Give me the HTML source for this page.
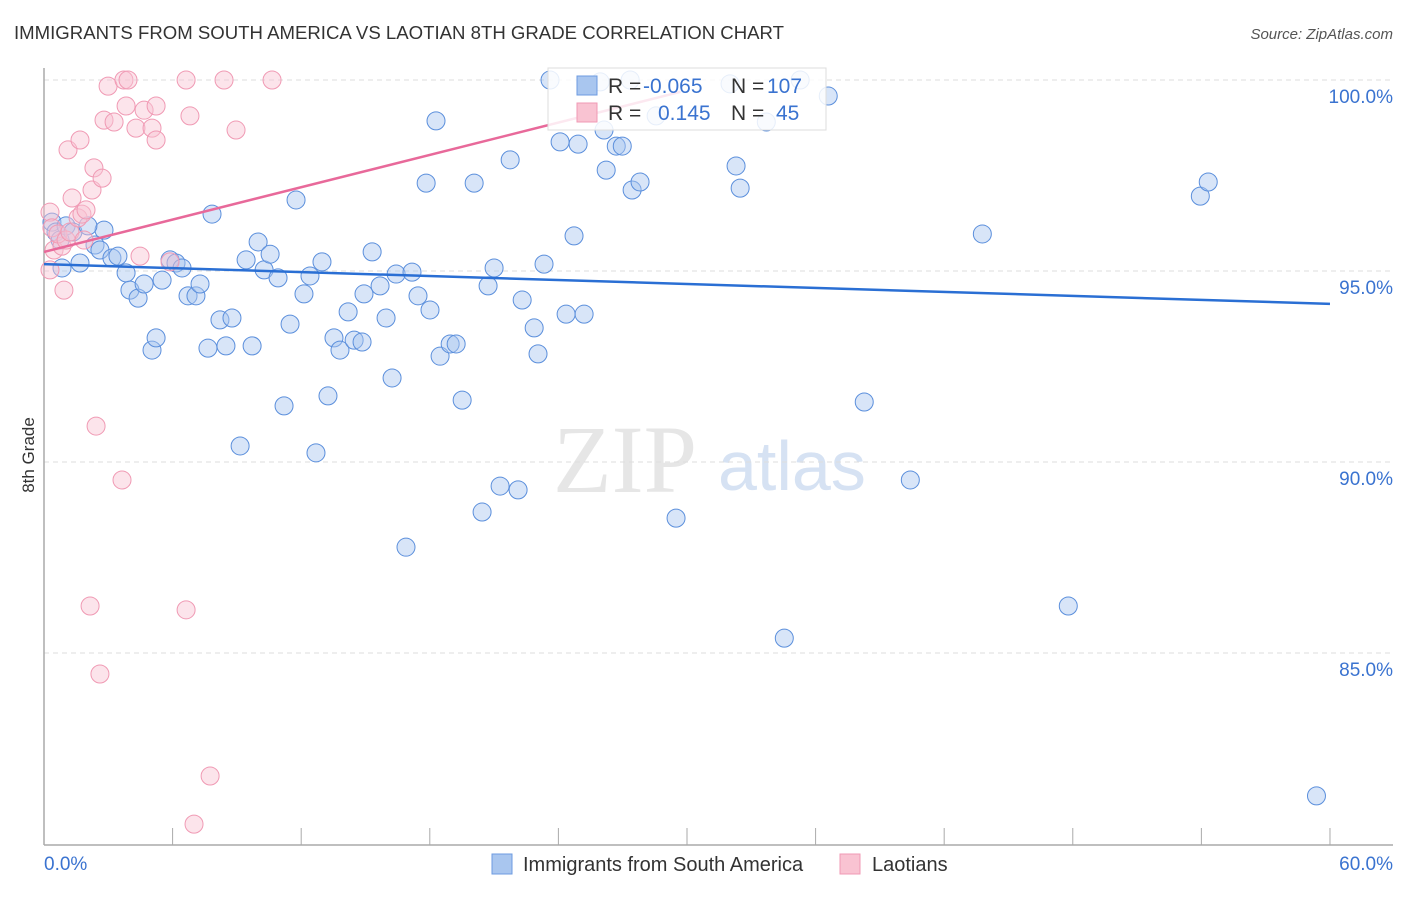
<!DOCTYPE html>
<html><head><meta charset="utf-8"><style>
body{margin:0;background:#fff;font-family:"Liberation Sans",sans-serif}
</style></head><body>
<svg id="c" width="1406" height="892" xmlns="http://www.w3.org/2000/svg" style="font-family:'Liberation Sans',sans-serif">
<text x="14" y="39" font-size="18.6" fill="#333">IMMIGRANTS FROM SOUTH AMERICA VS LAOTIAN 8TH GRADE CORRELATION CHART</text>
<text x="1393" y="39" font-size="15" fill="#555" font-style="italic" text-anchor="end">Source: ZipAtlas.com</text>
<text transform="translate(34,455) rotate(-90)" font-size="17" fill="#333" text-anchor="middle">8th Grade</text>
<g><text x="553" y="492" font-family="Liberation Serif" font-size="96" fill="#e6e6e6">ZIP</text><text x="718" y="490" font-size="70" fill="#d6e2f3">atlas</text></g>
<g id="grid"></g><g id="marks"></g><g id="lines"></g>
<g>
<rect x="548" y="68" width="278" height="62" fill="#fff" fill-opacity="0.85" stroke="#ddd"/>
<rect x="577" y="76" width="20" height="19" fill="#a9c6ef" stroke="#6d9be0"/>
<rect x="577" y="103" width="20" height="19" fill="#f9c3d2" stroke="#f09ab4"/>
<text y="93" font-size="21" fill="#333"><tspan x="608">R =</tspan><tspan x="643" fill="#3a73d0">-0.065</tspan><tspan x="731">N =</tspan><tspan x="767" fill="#3a73d0">107</tspan></text>
<text y="120" font-size="21" fill="#333"><tspan x="608">R =</tspan><tspan x="658" fill="#3a73d0">0.145</tspan><tspan x="731">N =</tspan><tspan x="776" fill="#3a73d0">45</tspan></text>
</g>
<g>
<rect x="492" y="854" width="20" height="20" fill="#a9c6ef" stroke="#6d9be0"/>
<text x="523" y="871" font-size="20" fill="#333">Immigrants from South America</text>
<rect x="840" y="854" width="20" height="20" fill="#f9c3d2" stroke="#f09ab4"/>
<text x="872" y="871" font-size="20" fill="#333">Laotians</text>
</g>
</svg>
<script>
const yTicks=[100,95,90,85];
const yTickLabels=["100.0%","95.0%","90.0%","85.0%"];
const xTickLabels=["0.0%","60.0%"];
const blueX=[0.37,0.56,0.75,1.03,1.35,1.68,0.84,2.80,2.05,2.38,2.61,3.17,3.45,3.83,4.01,4.39,4.67,5.51,5.88,6.16,6.44,6.72,7.09,7.28,7.84,8.21,8.77,7.65,8.49,9.71,5.04,5.23,9.15,9.43,9.99,10.27,10.55,10.92,11.48,11.20,11.76,12.13,12.41,12.97,12.69,13.25,13.53,13.81,14.19,14.47,14.84,14.93,15.31,15.68,15.96,16.24,16.43,17.17,17.45,18.01,17.83,16.89,18.29,18.48,18.95,19.23,19.51,20.07,20.44,20.72,21.00,21.28,21.75,22.12,22.31,22.87,23.05,23.33,23.61,24.08,24.36,24.73,24.92,25.20,25.95,26.13,26.23,26.70,26.98,27.35,27.44,27.81,28.56,29.49,32.01,32.29,32.48,33.70,34.54,35.28,36.59,38.27,40.42,43.78,47.79,53.95,54.32,59.37];
const blueY=[96.28,96.02,95.81,96.18,96.02,95.21,95.08,96.07,96.18,95.68,95.55,95.34,95.39,94.95,94.50,94.29,94.66,94.76,95.29,95.21,95.08,94.35,94.35,94.66,96.49,93.72,93.77,92.98,93.04,93.04,92.93,93.25,90.42,95.29,95.76,95.03,95.44,94.82,93.61,91.47,96.86,94.40,94.87,95.24,90.24,91.73,93.25,92.93,93.93,93.19,93.14,94.40,95.50,94.61,93.77,92.20,94.92,94.97,94.35,93.98,97.30,87.77,98.93,92.77,93.09,93.09,91.62,97.30,88.69,94.61,95.08,89.37,97.91,89.27,94.24,93.51,92.83,95.18,100.0,98.38,93.87,95.92,98.32,93.87,99.95,98.69,97.64,98.27,98.27,100.0,97.12,97.33,99.06,88.53,99.90,97.75,97.17,98.90,85.39,100.0,99.58,91.57,89.53,95.97,86.23,96.96,97.33,81.26];
const pinkX=[0.28,0.37,0.47,0.28,0.84,0.93,0.65,1.03,1.21,1.31,1.59,1.77,1.96,1.87,2.33,2.24,2.71,1.12,1.68,2.80,2.99,3.73,3.92,3.27,3.83,4.29,4.67,5.04,5.23,5.23,6.81,6.63,8.40,8.96,10.64,4.48,5.88,2.43,3.64,2.15,6.63,2.61,7.75,7.00];
const pinkY=[96.54,96.13,95.55,95.03,95.65,94.50,95.97,95.81,96.02,96.91,96.39,96.49,96.60,95.81,97.70,97.12,97.43,98.17,98.43,98.95,99.84,100.0,100.0,98.90,99.32,98.74,99.21,98.74,99.32,98.43,99.06,100.0,100.0,98.69,100.0,95.39,95.24,90.94,89.53,86.23,86.13,84.45,81.78,80.52];
const blueTrend=[[0,95.18],[60,94.14]];
const pinkTrend=[[0,95.5],[29.7,99.69]];
const NS="http://www.w3.org/2000/svg";
const sx=v=>44+v*21.433, sy=v=>80+(100-v)*38.2;
function mk(t,a,p){const e=document.createElementNS(NS,t);for(const k in a)e.setAttribute(k,a[k]);p.appendChild(e);return e;}
const g=document.getElementById('grid');
yTicks.forEach((t,i)=>{const l=mk('line',{x1:44,x2:1393,y1:sy(t),y2:sy(t),stroke:'#ddd','stroke-dasharray':'5,4'},g);


const tx=mk('text',{x:1393,y:sy(t)+23,'font-size':19,fill:'#3a73d0','text-anchor':'end'},g);tx.textContent=yTickLabels[i];

});
const ax=mk('line',{x1:44,x2:44,y1:68,y2:845,stroke:'#aaa','stroke-width':1.5},g);


const bx=mk('line',{x1:44,x2:1393,y1:845,y2:845,stroke:'#aaa','stroke-width':1.5},g);


for(let i=1;i<=10;i++){const t=mk('line',{x1:sx(i*6),x2:sx(i*6),y1:828,y2:845,stroke:'#aaa'},g);

}
[[0,'start'],[60,'end']].forEach((p,i)=>{const t=mk('text',{x:i?1393:44,y:870,'font-size':19,fill:'#3a73d0','text-anchor':p[1]},g);t.textContent=xTickLabels[i];

});
const m=document.getElementById('marks');
blueX.forEach((x,i)=>{const c=mk('circle',{cx:sx(x),cy:sy(blueY[i]),r:9,fill:'#a9c6ef','fill-opacity':0.45,stroke:'#5b8fdc','stroke-width':1},m);

});
pinkX.forEach((x,i)=>{const c=mk('circle',{cx:sx(x),cy:sy(pinkY[i]),r:9,fill:'#f9c3d2','fill-opacity':0.45,stroke:'#f09ab4','stroke-width':1},m);

});
const L=document.getElementById('lines');
const b=mk('line',{x1:sx(blueTrend[0][0]),y1:sy(blueTrend[0][1]),x2:sx(blueTrend[1][0]),y2:sy(blueTrend[1][1]),stroke:'#2a6fd4','stroke-width':2.5},L);


const p=mk('line',{x1:sx(pinkTrend[0][0]),y1:sy(pinkTrend[0][1]),x2:sx(pinkTrend[1][0]),y2:sy(pinkTrend[1][1]),stroke:'#e8699a','stroke-width':2.5},L);


</script>
</body></html>
